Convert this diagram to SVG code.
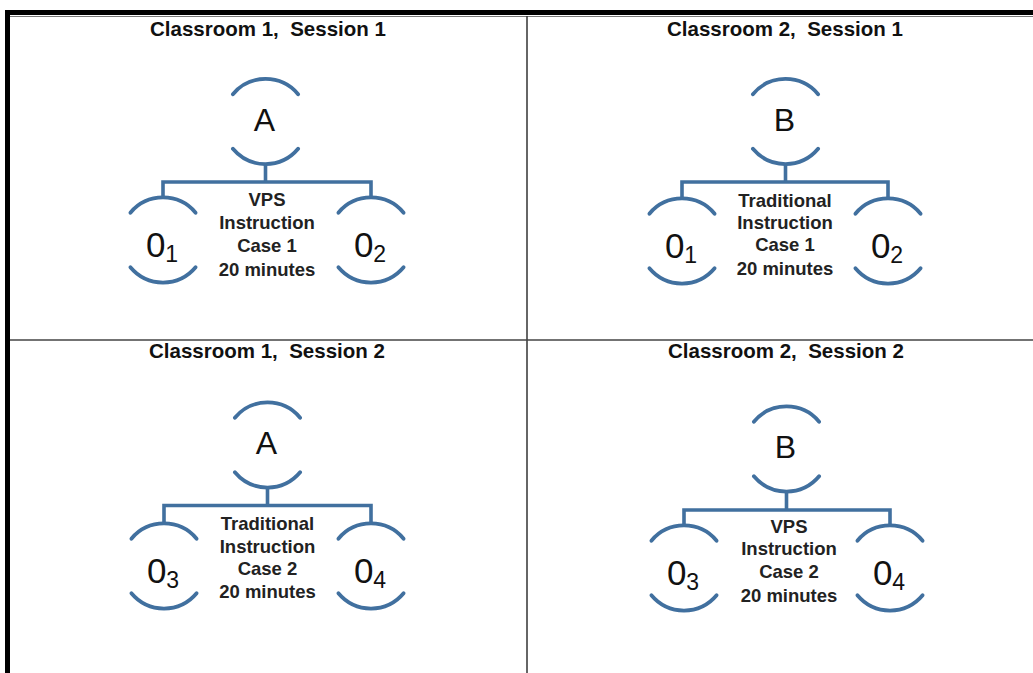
<svg xmlns="http://www.w3.org/2000/svg" xmlns:xlink="http://www.w3.org/1999/xlink" width="1033" height="673" viewBox="0 0 1033 673">
  <style>
    .arc { fill: none; stroke: #41709f; stroke-width: 3.8; stroke-linecap: round; }
    .link { fill: none; stroke: #41709f; stroke-width: 3.6; stroke-linejoin: miter; }
    .title { font-family: "Liberation Sans", Arial, sans-serif; font-weight: bold; font-size: 20.5px; fill: #111; text-anchor: middle; white-space: pre; }
    .label { font-family: "Liberation Sans", Arial, sans-serif; font-weight: bold; font-size: 18.5px; fill: #222; text-anchor: middle; }
    .letter { font-family: "Liberation Sans", Arial, sans-serif; font-size: 32px; fill: #111; text-anchor: middle; }
    .obs { font-family: "Liberation Sans", Arial, sans-serif; font-size: 35px; fill: #111; text-anchor: middle; }
    .sub { font-size: 23px; }
  </style>
  <defs>
    <!-- open circle node: only the upper and lower arcs of a r=42.5 circle -->
    <path id="arcTop" class="arc" d="M -32.6 -27.3 A 42.5 42.5 0 0 1 32.6 -27.3"/>
    <path id="arcBot" class="arc" d="M -32.6 27.3 A 42.5 42.5 0 0 0 32.6 27.3"/>
  </defs>

  <rect width="1033" height="673" fill="#ffffff"/>

  <!-- table frame -->
  <g id="frame">
    <rect x="5" y="10" width="1028" height="5" fill="#000"/>
    <rect x="5" y="10" width="5" height="663" fill="#000"/>
    <line x1="10" y1="16.5" x2="1033" y2="16.5" stroke="#777" stroke-width="1"/>
    <line x1="527" y1="16" x2="527" y2="673" stroke="#333" stroke-width="1.5"/>
    <line x1="10" y1="340" x2="1033" y2="340" stroke="#444" stroke-width="1.5"/>
  </g>

  <!-- cell titles -->
  <g id="titles">
    <text class="title" x="268" y="36">Classroom 1,  Session 1</text>
    <text class="title" x="785" y="36">Classroom 2,  Session 1</text>
    <text class="title" x="267" y="358">Classroom 1,  Session 2</text>
    <text class="title" x="786" y="358">Classroom 2,  Session 2</text>
  </g>

  <!-- connectors: stem from group node to bar, bar to both observations -->
  <g id="connectors">
    <path class="link" d="M265.5 164 V182 M163 197.5 V182 H371 V197.5"/>
    <path class="link" d="M785.5 164 V182 M682 198.5 V182 H888 V198.5"/>
    <path class="link" d="M267.5 487.5 V505.5 M164 523.5 V505.5 H371 V523.5"/>
    <path class="link" d="M786.5 491.5 V510 M684 525.5 V510 H890 V525.5"/>
  </g>

  <!-- Classroom 1, Session 1 -->
  <g id="c1s1-group" transform="translate(265.5 121.5)">
    <use xlink:href="#arcTop"/><use xlink:href="#arcBot"/>
    <text class="letter" x="-1" y="9">A</text>
  </g>
  <g id="c1s1-o1" transform="translate(163 240)">
    <use xlink:href="#arcTop"/><use xlink:href="#arcBot"/>
    <text class="obs" x="-1" y="17">0<tspan class="sub" dy="5">1</tspan></text>
  </g>
  <g id="c1s1-o2" transform="translate(371 240)">
    <use xlink:href="#arcTop"/><use xlink:href="#arcBot"/>
    <text class="obs" x="-1" y="17">0<tspan class="sub" dy="5">2</tspan></text>
  </g>
  <g id="c1s1-treatment">
    <text class="label" x="267" y="206">VPS</text>
    <text class="label" x="267" y="228.5">Instruction</text>
    <text class="label" x="267" y="252">Case 1</text>
    <text class="label" x="267" y="275.5">20 minutes</text>
  </g>

  <!-- Classroom 2, Session 1 -->
  <g id="c2s1-group" transform="translate(785.5 121.5)">
    <use xlink:href="#arcTop"/><use xlink:href="#arcBot"/>
    <text class="letter" x="-1" y="9">B</text>
  </g>
  <g id="c2s1-o1" transform="translate(682 241)">
    <use xlink:href="#arcTop"/><use xlink:href="#arcBot"/>
    <text class="obs" x="-1" y="17">0<tspan class="sub" dy="5">1</tspan></text>
  </g>
  <g id="c2s1-o2" transform="translate(888 241)">
    <use xlink:href="#arcTop"/><use xlink:href="#arcBot"/>
    <text class="obs" x="-1" y="17">0<tspan class="sub" dy="5">2</tspan></text>
  </g>
  <g id="c2s1-treatment">
    <text class="label" x="785" y="207">Traditional</text>
    <text class="label" x="785" y="229">Instruction</text>
    <text class="label" x="785" y="251">Case 1</text>
    <text class="label" x="785" y="275">20 minutes</text>
  </g>

  <!-- Classroom 1, Session 2 -->
  <g id="c1s2-group" transform="translate(267.5 445)">
    <use xlink:href="#arcTop"/><use xlink:href="#arcBot"/>
    <text class="letter" x="-1" y="9">A</text>
  </g>
  <g id="c1s2-o3" transform="translate(164 566)">
    <use xlink:href="#arcTop"/><use xlink:href="#arcBot"/>
    <text class="obs" x="-1" y="17">0<tspan class="sub" dy="5">3</tspan></text>
  </g>
  <g id="c1s2-o4" transform="translate(371 566)">
    <use xlink:href="#arcTop"/><use xlink:href="#arcBot"/>
    <text class="obs" x="-1" y="17">0<tspan class="sub" dy="5">4</tspan></text>
  </g>
  <g id="c1s2-treatment">
    <text class="label" x="267.5" y="530">Traditional</text>
    <text class="label" x="267.5" y="553">Instruction</text>
    <text class="label" x="267.5" y="575">Case 2</text>
    <text class="label" x="267.5" y="598">20 minutes</text>
  </g>

  <!-- Classroom 2, Session 2 -->
  <g id="c2s2-group" transform="translate(786.5 449)">
    <use xlink:href="#arcTop"/><use xlink:href="#arcBot"/>
    <text class="letter" x="-1" y="9">B</text>
  </g>
  <g id="c2s2-o3" transform="translate(684 568)">
    <use xlink:href="#arcTop"/><use xlink:href="#arcBot"/>
    <text class="obs" x="-1" y="17">0<tspan class="sub" dy="5">3</tspan></text>
  </g>
  <g id="c2s2-o4" transform="translate(890 568)">
    <use xlink:href="#arcTop"/><use xlink:href="#arcBot"/>
    <text class="obs" x="-1" y="17">0<tspan class="sub" dy="5">4</tspan></text>
  </g>
  <g id="c2s2-treatment">
    <text class="label" x="789" y="533">VPS</text>
    <text class="label" x="789" y="555">Instruction</text>
    <text class="label" x="789" y="578">Case 2</text>
    <text class="label" x="789" y="602">20 minutes</text>
  </g>
</svg>
